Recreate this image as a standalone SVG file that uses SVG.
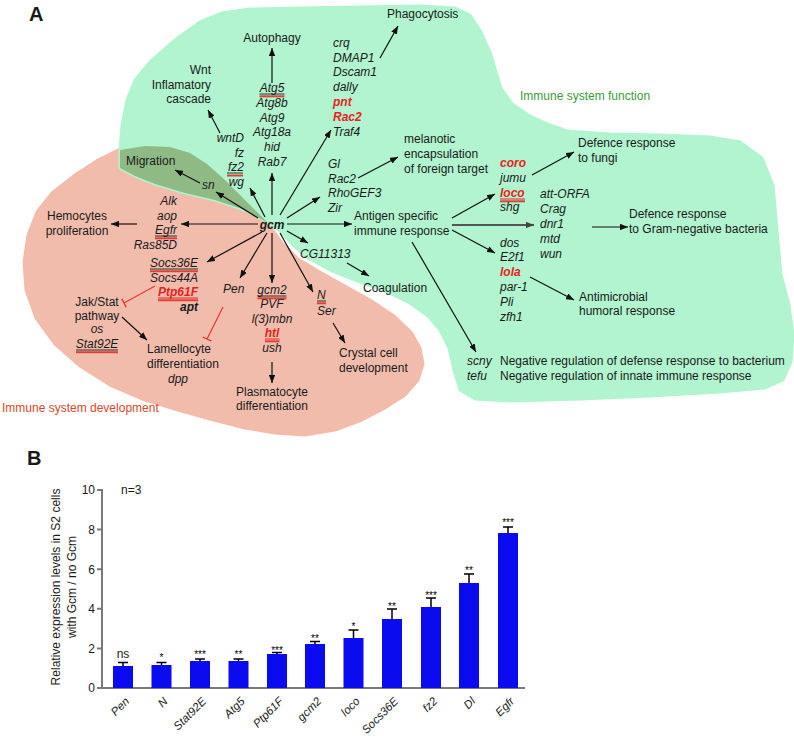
<svg xmlns="http://www.w3.org/2000/svg" width="794" height="739" viewBox="0 0 794 739">
<style>
text{font-family:"Liberation Sans",Arial,Helvetica,sans-serif;font-size:12px;fill:#1a1a1a}
.i{font-style:italic}
.b{font-weight:bold}
.r{fill:#e8231f;font-weight:bold;font-style:italic}
.arr{stroke:#111;stroke-width:1.2;fill:none;marker-end:url(#ah)}
.arr2{stroke:#555;stroke-width:2.2;fill:none;marker-end:url(#ah2)}
.inh{stroke:#e63a35;stroke-width:1.2;fill:none;marker-end:url(#tb)}
.uk{stroke:#1a1a1a;stroke-width:0.9}
.ur{stroke:#d9433a;stroke-width:2}
.urr{stroke:#e8231f;stroke-width:1}
.ax{stroke:#7a7a7a;stroke-width:2;fill:none}
.bar{fill:#0b0bf0}
.eb{stroke:#000;stroke-width:1.5;fill:none}
.st{font-size:10px;fill:#000}
.xl{font-size:11.5px;font-style:italic}
</style>
<defs>
<marker id="ah" viewBox="0 0 10 8" refX="10" refY="4" markerWidth="8" markerHeight="6.4" markerUnits="userSpaceOnUse" orient="auto"><path d="M0,0 L10,4 L0,8 z" fill="#111"/></marker>
<marker id="ah2" viewBox="0 0 10 8" refX="10" refY="4" markerWidth="8" markerHeight="6.4" markerUnits="userSpaceOnUse" orient="auto"><path d="M0,0 L10,4 L0,8 z" fill="#444"/></marker>
<marker id="tb" viewBox="0 0 2 10" refX="1" refY="5" markerWidth="2" markerHeight="10" markerUnits="userSpaceOnUse" orient="auto"><path d="M1,0 V10" stroke="#e63a35" stroke-width="1.4"/></marker>
</defs>
<rect width="794" height="739" fill="#fff"/>

<g id="regions" stroke-linejoin="round">
<path id="dev-region" fill="#f2bcad" stroke="#f2bcad" stroke-width="3" d="M118,150 L145,146 L170,147 L190,153 L207,164 L225,180 L242,197 L258,213 L270,226 L282,243 L298,259 L318,271 L343,285 L370,300 L394,316 L411,332 L420,348 L423,364 L418,380 L405,395 L385,408 L362,420 L335,430 L305,435 L275,433 L245,428 L210,419 L178,410 L145,400 L110,385 L80,366 L55,344 L36,318 L26,290 L24,262 L28,235 L37,212 L52,193 L75,175 L98,160 Z"/>
<path id="func-region" fill="#b1f4cf" stroke="#b1f4cf" stroke-width="3" d="M120,168 L120,150 L122,125 L127,100 L135,80 L150,62 L175,40 L200,22 L222,13 L250,9 L300,8 L360,7 L420,6 L455,8 L470,15 L481,32 L490,52 L496,72 L501,88 L512,104 L530,116 L550,125 L567,131 L610,134 L660,135 L710,137 L740,142 L762,158 L773,185 L777,230 L781,275 L789,305 L793,335 L791,362 L783,380 L765,388 L720,392 L650,396 L580,399 L510,401 L475,399 L460,390 L454,370 L449,348 L440,330 L428,316 L410,303 L385,291 L355,280 L330,270 L308,258 L292,244 L279,230 L268,222 L245,210 L215,200 L185,193 L155,184 L135,176 Z"/>
<path id="overlap-region" fill="#8fba85" d="M120,150 L145,146 L170,147 L190,153 L207,164 L225,180 L242,197 L258,213 L268,223 L245,210 L215,200 L185,193 L155,184 L135,176 L120,168 Z"/>
</g>

<text x="29" y="21" class="b" style="font-size:20px">A</text>
<text x="27" y="465" class="b" style="font-size:20px">B</text>

<g id="connectors">
<line class="arr" x1="272" y1="215" x2="272" y2="173"/>
<line class="arr" x1="272" y1="83" x2="272" y2="48"/>
<line class="arr" x1="265" y1="217" x2="250" y2="188"/>
<line class="arr" x1="220" y1="133" x2="208" y2="110"/>
<line class="arr" x1="258" y1="218" x2="216" y2="192"/>
<line class="arr" x1="200" y1="183" x2="175" y2="170"/>
<line class="arr" x1="258" y1="224" x2="181" y2="224"/>
<line class="arr" x1="137" y1="224" x2="111" y2="224"/>
<line class="arr" x1="262" y1="232" x2="207" y2="262"/>
<line class="arr" x1="267" y1="233" x2="240" y2="278"/>
<line class="arr" x1="272" y1="233" x2="272" y2="283"/>
<line class="arr" x1="272" y1="362" x2="272" y2="383"/>
<line class="arr" x1="280" y1="233" x2="313" y2="292"/>
<line class="arr" x1="333" y1="323" x2="345" y2="343"/>
<line class="arr" x1="287" y1="231" x2="308" y2="243"/>
<line class="arr" x1="347" y1="263" x2="369" y2="276"/>
<line class="arr" x1="287" y1="224" x2="352" y2="224"/>
<line class="arr" x1="287" y1="218" x2="320" y2="197"/>
<line class="arr" x1="280" y1="215" x2="331" y2="130"/>
<line class="arr" x1="380" y1="58" x2="398" y2="26"/>
<line class="arr" x1="358" y1="178" x2="398" y2="157"/>
<line class="arr" x1="452" y1="218" x2="495" y2="194"/>
<line class="arr2" x1="452" y1="225" x2="534" y2="225"/>
<line class="arr" x1="452" y1="230" x2="495" y2="253"/>
<line class="arr" x1="532" y1="175" x2="574" y2="152"/>
<line class="arr" x1="592" y1="227" x2="628" y2="227"/>
<line class="arr" x1="530" y1="277" x2="574" y2="300"/>
<line class="arr" x1="412" y1="242" x2="476" y2="352"/>
<line class="arr" x1="122" y1="317" x2="147" y2="340"/>
<line class="inh" x1="155" y1="286" x2="124" y2="303"/>
<line class="inh" x1="223" y1="307" x2="207" y2="339"/>
</g>

<g id="gcm"><text x="272" y="229" text-anchor="middle" class="b i">gcm</text></g>

<g id="wnt">
<text text-anchor="end"><tspan x="211" y="74">Wnt</tspan><tspan x="211" y="89">Inflamatory</tspan><tspan x="211" y="103">cascade</tspan></text>
</g>
<g id="wnt-genes">
<text text-anchor="end" class="i"><tspan x="244" y="142">wntD</tspan><tspan x="244" y="157">fz</tspan><tspan x="244" y="171">fz2</tspan><tspan x="244" y="186">wg</tspan></text>
<line class="uk" x1="227" y1="173" x2="243" y2="173"/><line class="ur" x1="227" y1="175.5" x2="243" y2="175.5"/>
</g>
<g id="autophagy"><text x="272" y="42" text-anchor="middle">Autophagy</text></g>
<g id="atg-genes">
<text text-anchor="middle" class="i"><tspan x="272" y="92">Atg5</tspan><tspan x="272" y="107">Atg8b</tspan><tspan x="272" y="122">Atg9</tspan><tspan x="272" y="136">Atg18a</tspan><tspan x="272" y="151">hid</tspan><tspan x="272" y="166">Rab7</tspan></text>
<line class="uk" x1="259.5" y1="94" x2="284.5" y2="94"/><line class="ur" x1="259.5" y1="96.3" x2="284.5" y2="96.3"/>
</g>
<g id="phagocytosis"><text x="387" y="18">Phagocytosis</text></g>
<g id="phago-genes">
<text class="i"><tspan x="333" y="47">crq</tspan><tspan x="333" y="62">DMAP1</tspan><tspan x="333" y="76">Dscam1</tspan><tspan x="333" y="91">dally</tspan></text>
<text class="r"><tspan x="333" y="106">pnt</tspan><tspan x="333" y="121">Rac2</tspan></text>
<text class="i" x="333" y="136">Traf4</text>
</g>
<g id="migration"><text x="126" y="165">Migration</text></g>
<g id="sn"><text x="202" y="189" class="i">sn</text></g>
<g id="encaps-genes">
<text class="i"><tspan x="328" y="168">Gl</tspan><tspan x="328" y="183">Rac2</tspan><tspan x="328" y="197">RhoGEF3</tspan><tspan x="328" y="212">Zir</tspan></text>
</g>
<g id="melanotic">
<text><tspan x="404" y="143">melanotic</tspan><tspan x="404" y="158">encapsulation</tspan><tspan x="404" y="173">of foreign target</tspan></text>
</g>
<g id="func-label"><text x="520" y="100" style="fill:#3c9a3c">Immune system function</text></g>
<g id="antigen"><text><tspan x="354" y="220">Antigen specific</tspan><tspan x="354" y="235">immune response</tspan></text></g>
<g id="fungi-genes">
<text class="r" x="500" y="167">coro</text>
<text class="i" x="500" y="182">jumu</text>
<text class="r" x="500" y="197">loco</text>
<line class="urr" x1="500" y1="199" x2="525" y2="199"/><line class="ur" x1="500" y1="201.3" x2="525" y2="201.3"/>
<text class="i" x="500" y="211">shg</text>
</g>
<g id="fungi"><text><tspan x="578" y="147">Defence response</tspan><tspan x="578" y="162">to fungi</tspan></text></g>
<g id="gram-genes">
<text class="i"><tspan x="540" y="198">att-ORFA</tspan><tspan x="540" y="213">Crag</tspan><tspan x="540" y="228">dnr1</tspan><tspan x="540" y="243">mtd</tspan><tspan x="540" y="258">wun</tspan></text>
</g>
<g id="gram"><text><tspan x="629" y="218">Defence response</tspan><tspan x="629" y="233">to Gram-negative bacteria</tspan></text></g>
<g id="amp-genes">
<text class="i"><tspan x="500" y="247">dos</tspan><tspan x="500" y="261">E2f1</tspan></text>
<text class="r" x="500" y="276">lola</text>
<text class="i"><tspan x="500" y="291">par-1</tspan><tspan x="500" y="306">Pli</tspan><tspan x="500" y="321">zfh1</tspan></text>
</g>
<g id="antimicrobial"><text><tspan x="579" y="301">Antimicrobial</tspan><tspan x="579" y="315">humoral response</tspan></text></g>
<g id="negative">
<text class="i"><tspan x="467" y="365">scny</tspan><tspan x="467" y="380">tefu</tspan></text>
<text><tspan x="500" y="365">Negative regulation of defense response to bacterium</tspan><tspan x="500" y="380">Negative regulation of innate immune response</tspan></text>
</g>
<g id="prolif-genes">
<text text-anchor="end" class="i"><tspan x="177" y="205">Alk</tspan><tspan x="177" y="220">aop</tspan><tspan x="177" y="234">Egfr</tspan><tspan x="177" y="249">Ras85D</tspan></text>
<line class="uk" x1="155" y1="236" x2="177" y2="236"/><line class="ur" x1="155" y1="238.3" x2="177" y2="238.3"/>
</g>
<g id="hemocytes"><text text-anchor="middle"><tspan x="77" y="220">Hemocytes</tspan><tspan x="77" y="235">proliferation</tspan></text></g>
<g id="socs-genes">
<text text-anchor="end" class="i"><tspan x="198" y="267">Socs36E</tspan><tspan x="198" y="282">Socs44A</tspan></text>
<line class="uk" x1="150" y1="269" x2="198" y2="269"/><line class="ur" x1="150" y1="271.3" x2="198" y2="271.3"/>
<text text-anchor="end" class="r" x="198" y="296">Ptp61F</text>
<line class="urr" x1="158" y1="298" x2="198" y2="298"/><line class="ur" x1="158" y1="300.3" x2="198" y2="300.3"/>
<text text-anchor="end" class="b i" x="198" y="311">apt</text>
</g>
<g id="jakstat">
<text text-anchor="middle"><tspan x="97" y="306">Jak/Stat</tspan><tspan x="97" y="320">pathway</tspan></text>
<text text-anchor="middle" class="i"><tspan x="97" y="333">os</tspan><tspan x="97" y="348">Stat92E</tspan></text>
<line class="uk" x1="76" y1="350" x2="118" y2="350"/><line class="ur" x1="76" y1="352.3" x2="118" y2="352.3"/>
</g>
<g id="lamellocyte">
<text><tspan x="147" y="353">Lamellocyte</tspan><tspan x="147" y="368">differentiation</tspan></text>
<text class="i" x="168" y="383">dpp</text>
</g>
<g id="pen"><text class="i" x="223" y="293">Pen</text></g>
<g id="plasmato-genes">
<text text-anchor="middle" class="i"><tspan x="272" y="294">gcm2</tspan><tspan x="272" y="308">PVF</tspan><tspan x="272" y="323">l(3)mbn</tspan></text>
<line class="uk" x1="257.5" y1="296" x2="286.5" y2="296"/><line class="ur" x1="257.5" y1="298.3" x2="286.5" y2="298.3"/>
<text text-anchor="middle" class="r" x="272" y="337">htl</text>
<line class="urr" x1="265" y1="339" x2="279.5" y2="339"/><line class="ur" x1="265" y1="341.3" x2="279.5" y2="341.3"/>
<text text-anchor="middle" class="i" x="272" y="352">ush</text>
</g>
<g id="plasmatocyte"><text text-anchor="middle"><tspan x="272" y="396">Plasmatocyte</tspan><tspan x="272" y="410">differentiation</tspan></text></g>
<g id="crystal-genes">
<text class="i"><tspan x="317" y="299">N</tspan><tspan x="317" y="315">Ser</tspan></text>
<line class="uk" x1="317" y1="301" x2="326" y2="301"/><line class="ur" x1="317" y1="303.3" x2="326" y2="303.3"/>
</g>
<g id="crystal"><text><tspan x="339" y="357">Crystal cell</tspan><tspan x="339" y="372">development</tspan></text></g>
<g id="cg11313"><text class="i" x="300" y="258">CG11313</text></g>
<g id="coagulation"><text x="363" y="292">Coagulation</text></g>
<g id="dev-label"><text x="2" y="412" style="fill:#d9482a">Immune system development</text></g>

<g id="chart">
<text transform="translate(60,587) rotate(-90)" text-anchor="middle">Relative expression levels in S2 cells</text>
<text transform="translate(76,587) rotate(-90)" text-anchor="middle">with Gcm / no Gcm</text>
<text x="121" y="494">n=3</text>
<g text-anchor="end">
<text x="95" y="692.3">0</text><text x="95" y="652.7">2</text><text x="95" y="613.1">4</text><text x="95" y="573.5">6</text><text x="95" y="533.9">8</text><text x="95" y="494.3">10</text>
</g>
<path class="ax" d="M102,489 V688 H525 M97,490 H102 M97,529.6 H102 M97,569.2 H102 M97,608.8 H102 M97,648.4 H102 M97,688 H102"/>
<g id="bars">
<rect class="bar" x="113" y="666" width="20" height="22"/>
<rect class="bar" x="151.5" y="665" width="20" height="23"/>
<rect class="bar" x="190" y="661" width="20" height="27"/>
<rect class="bar" x="228.5" y="661" width="20" height="27"/>
<rect class="bar" x="267" y="654" width="20" height="34"/>
<rect class="bar" x="305" y="644" width="20" height="44"/>
<rect class="bar" x="343.5" y="638" width="20" height="50"/>
<rect class="bar" x="382" y="619" width="20" height="69"/>
<rect class="bar" x="421" y="607" width="20" height="81"/>
<rect class="bar" x="459" y="583" width="20" height="105"/>
<rect class="bar" x="498" y="533" width="20" height="155"/>
</g>
<path class="eb" d="M123,666V662.5M118,662.5H128 M161.5,665V662.5M156.5,662.5H166.5 M200,661V659M195,659H205 M238.5,661V659M233.5,659H243.5 M277,654V652.5M272,652.5H282 M315,644V641.5M310,641.5H320 M353.5,638V630M348.5,630H358.5 M392,619V609M387,609H397 M431,607V598M426,598H436 M469,583V574M464,574H474 M508,533V527M503,527H513"/>
<g text-anchor="middle">
<text x="123" y="658">ns</text>
<text class="st" x="161.5" y="661">*</text>
<text class="st" x="200" y="658">***</text>
<text class="st" x="238.5" y="658">**</text>
<text class="st" x="277" y="654">***</text>
<text class="st" x="315" y="642">**</text>
<text class="st" x="353.5" y="630">*</text>
<text class="st" x="392" y="610">**</text>
<text class="st" x="431" y="599">***</text>
<text class="st" x="469" y="574">**</text>
<text class="st" x="508" y="526">***</text>
</g>
<g id="xlabels" text-anchor="end">
<text class="xl" transform="translate(130,702) rotate(-45)">Pen</text>
<text class="xl" transform="translate(168.5,702) rotate(-45)">N</text>
<text class="xl" transform="translate(207,702) rotate(-45)">Stat92E</text>
<text class="xl" transform="translate(245.5,702) rotate(-45)">Atg5</text>
<text class="xl" transform="translate(284,702) rotate(-45)">Ptp61F</text>
<text class="xl" transform="translate(322,702) rotate(-45)">gcm2</text>
<text class="xl" transform="translate(360.5,702) rotate(-45)">loco</text>
<text class="xl" transform="translate(399,702) rotate(-45)">Socs36E</text>
<text class="xl" transform="translate(438,702) rotate(-45)">fz2</text>
<text class="xl" transform="translate(476,702) rotate(-45)">Dl</text>
<text class="xl" transform="translate(515,702) rotate(-45)">Egfr</text>
</g>
</g>
</svg>
